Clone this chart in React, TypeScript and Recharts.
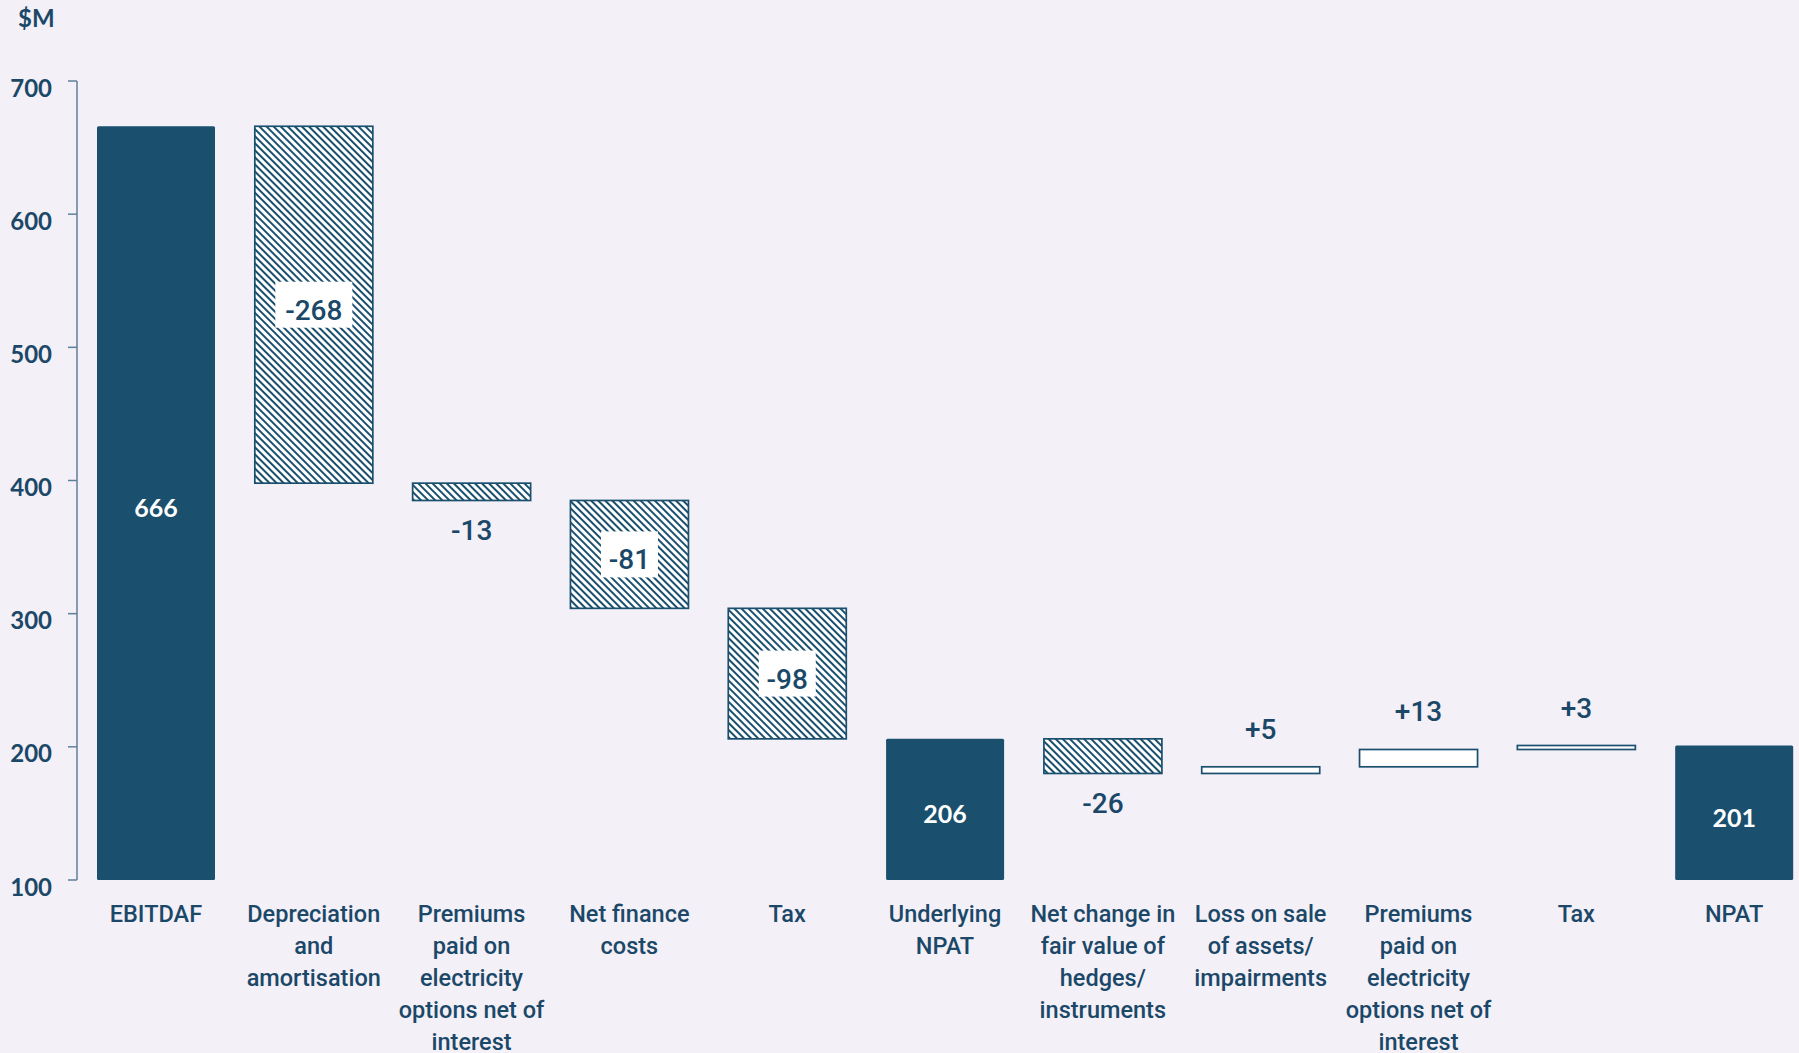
import React from 'react';
import { BarChart, Bar, XAxis, YAxis } from 'recharts';

const categories = [
  'EBITDAF',
  'Depreciation\nand\namortisation',
  'Premiums\npaid on\nelectricity\noptions net of\ninterest',
  'Net finance\ncosts',
  'Tax',
  'Underlying\nNPAT',
  'Net change in\nfair value of\nhedges/\ninstruments',
  'Loss on sale\nof assets/\nimpairments',
  'Premiums\npaid on\nelectricity\noptions net of\ninterest',
  'Tax',
  'NPAT',
];
const values = [666, -268, -13, -81, -98, 206, -26, 5, 13, 3, 201];
const kinds = ['total', 'delta', 'delta', 'delta', 'delta', 'total', 'delta', 'delta', 'delta', 'delta', 'total'];
const yTicks = [100, 200, 300, 400, 500, 600, 700];
const Y_MIN = 100;
const Y_MAX = 700;

const DARK = '#1a4f6e';
const TEXT = '#1b4868';
const BG = '#f3f0f7';
const AXIS = '#5f809c';
const ROBOTO = "Roboto, 'Noto Sans', sans-serif";
const LATO = "Lato, 'Open Sans', sans-serif";

let running = 0;
const data = categories.map((name, i) => {
  const v = values[i];
  let low: number;
  let high: number;
  if (kinds[i] === 'total') {
    running = v;
    low = Y_MIN;
    high = v;
  } else {
    const start = running;
    running = start + v;
    low = Math.min(start, running);
    high = Math.max(start, running);
  }
  return { name, idx: i, range: [low, high], value: v, kind: kinds[i] };
});

const fmt = (v: number, kind: string) => (kind === 'total' ? `${v}` : v > 0 ? `+${v}` : `${v}`);

const WaterfallShape = (props: any) => {
  const { x, y, width, height, payload } = props;
  if (x == null || y == null) return null;
  const top = Math.min(y, y + height);
  const h = Math.abs(height);
  const kind = payload.kind;
  const v = payload.value;
  const cx = x + width / 2;
  const label = fmt(v, kind);
  if (kind === 'total') {
    return (
      <g>
        <rect x={x} y={top} width={width} height={h} fill={DARK} rx={1.5} />
        <text x={cx} y={top + h / 2 + 14} textAnchor="middle" fill="#ffffff" fontFamily={LATO} fontWeight={700} fontSize={25}>
          {label}
        </text>
      </g>
    );
  }
  const fill = v < 0 ? 'url(#hatch)' : '#ffffff';
  const inside = v < 0 && h > 60;
  const boxW = 20 * label.length - 3;
  const boxH = 46;
  let labelEl: React.ReactNode = null;
  const txt = (ty: number) => (
    <text x={cx} y={ty} textAnchor="middle" fill={TEXT} fontFamily={ROBOTO} fontWeight={500} fontSize={28}>
      {label}
    </text>
  );
  if (inside) {
    labelEl = (
      <g>
        <rect x={cx - boxW / 2} y={top + h / 2 - boxH / 2} width={boxW} height={boxH} fill="#ffffff" />
        {txt(top + h / 2 + 15)}
      </g>
    );
  } else if (v < 0) {
    labelEl = txt(top + h + 40);
  } else {
    labelEl = txt(top - 28);
  }
  return (
    <g>
      <rect x={x} y={top} width={width} height={h} fill={fill} stroke={DARK} strokeWidth={1.7} />
      {labelEl}
    </g>
  );
};

const XTick = (props: any) => {
  const { x, y, payload } = props;
  const idx = payload && payload.index != null ? payload.index : props.index;
  const lines = (categories[idx] || '').split('\n');
  return (
    <g transform={`translate(${x},${y})`}>
      <text x={0} y={0} textAnchor="middle" fill={TEXT} fontFamily={ROBOTO} fontWeight={500} fontSize={23.5}>
        {lines.map((l, i) => (
          <tspan key={i} x={0} dy={i === 0 ? 42 : 32}>
            {l}
          </tspan>
        ))}
      </text>
    </g>
  );
};

const YTick = (props: any) => {
  const { y, payload } = props;
  return (
    <text x={52} y={y + 6} textAnchor="end" dominantBaseline="central" fill={TEXT} fontFamily={LATO} fontWeight={700} fontSize={24}>
      {payload.value}
    </text>
  );
};

export default function App() {
  return (
    <div style={{ position: 'absolute', left: 0, top: 0, width: 1799, height: 1053, overflow: 'hidden', background: BG }}>
      <svg width={0} height={0} style={{ position: 'absolute' }}>
        <defs>
          <pattern id="hatch" patternUnits="userSpaceOnUse" width={5} height={5} patternTransform="rotate(45)">
            <rect x={0} y={0} width={5} height={5} fill="#ffffff" />
            <rect x={0} y={0} width={5} height={2} fill={DARK} />
          </pattern>
        </defs>
      </svg>
      <div style={{ position: 'absolute', left: 18, top: 0, fontFamily: LATO, fontWeight: 700, fontSize: 24, color: TEXT, lineHeight: '36px' }}>
        $M
      </div>
      <BarChart width={1813} height={1053} data={data} margin={{ top: 81, right: 0, bottom: 0, left: 0 }}>
        <XAxis
          dataKey="idx"
          type="category"
          axisLine={false}
          tickLine={false}
          tickSize={0}
          tickMargin={0}
          height={173}
          interval={0}
          tick={<XTick />}
        />
        <YAxis
          type="number"
          domain={[Y_MIN, Y_MAX]}
          ticks={yTicks}
          allowDataOverflow
          width={77}
          axisLine={{ stroke: AXIS, strokeWidth: 1.5 }}
          tickLine={{ stroke: AXIS, strokeWidth: 1.5 }}
          tickSize={9}
          tick={<YTick />}
        />
        <Bar dataKey="range" barSize={118} isAnimationActive={false} shape={<WaterfallShape />} />
      </BarChart>
    </div>
  );
}
